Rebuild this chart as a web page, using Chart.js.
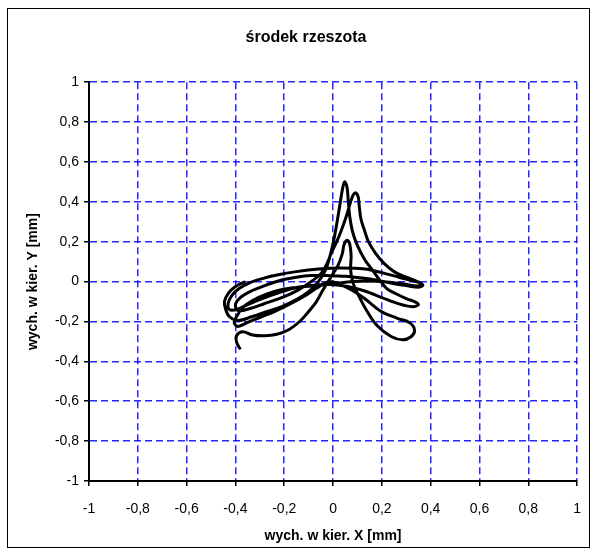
<!DOCTYPE html>
<html>
<head>
<meta charset="utf-8">
<script src="https://cdn.jsdelivr.net/npm/chart.js@4"></script>
<style>
  body { margin: 0; background: #fff; }
</style>
</head>
<body>
<canvas id="chart" width="596" height="553"></canvas>
<script>
// trajektoria środka rzeszota, wychylenia w mm
let pathX = [
  -0.36, -0.40, -0.43, -0.445, -0.44, -0.425, -0.39, -0.33, -0.27, -0.21, -0.15, -0.10, -0.06, -0.03, -0.01, 0.005, 0.018, 0.03, 0.038, 0.047,
  0.057, 0.062, 0.068, 0.08, 0.10, 0.13, 0.16, 0.19, 0.22, 0.26, 0.30, 0.338, 0.35, 0.325, 0.27, 0.20, 0.13, 0.06, -0.01, -0.08, -0.15, -0.22, -0.29, -0.35, -0.395, -0.425, -0.43, -0.415, -0.385,
  -0.34, -0.29, -0.23, -0.15, -0.06, 0.03, 0.13, 0.20, 0.27, 0.33, 0.362, 0.368, 0.35, 0.30, 0.24, 0.18, 0.12, 0.05, -0.02, -0.09, -0.15, -0.21, -0.28, -0.34, -0.38, -0.40, -0.39,
  -0.34, -0.28, -0.20, -0.14, -0.09, -0.05, -0.025, -0.005, 0.015, 0.035, 0.055, 0.072, 0.083, 0.093, 0.103, 0.108, 0.115, 0.128, 0.145, 0.175, 0.21, 0.25, 0.30, 0.345, 0.362, 0.345, 0.29, 0.22, 0.15, 0.08, 0.01, -0.06, -0.13, -0.20, -0.27, -0.33, -0.37, -0.39, -0.405, -0.39,
  -0.35, -0.30, -0.24, -0.18, -0.12, -0.07, -0.015, 0.04, 0.08, 0.129, 0.197, 0.264, 0.315, 0.334, 0.318, 0.285, 0.238, 0.18, 0.14, 0.105, 0.08, 0.072, 0.074, 0.068, 0.058, 0.045, 0.038, 0.02, 0.0, -0.02, -0.045, -0.068, -0.10, -0.137, -0.18, -0.23, -0.28, -0.33, -0.37, -0.395, -0.395, -0.38
];
let pathY = [
  0.0, -0.025, -0.06, -0.10, -0.14, -0.175, -0.195, -0.175, -0.15, -0.125, -0.09, -0.05, 0.0, 0.06, 0.14, 0.22, 0.31, 0.40, 0.46, 0.50,
  0.475, 0.41, 0.33, 0.25, 0.18, 0.11, 0.06, 0.01, -0.035, -0.062, -0.085, -0.103, -0.116, -0.126, -0.112, -0.08, -0.047, -0.025, -0.015, -0.018, -0.03, -0.055, -0.085, -0.115, -0.14, -0.14, -0.11, -0.07, -0.035,
  -0.005, 0.015, 0.033, 0.05, 0.063, 0.068, 0.063, 0.045, 0.022, 0.003, -0.01, -0.02, -0.028, -0.02, -0.008, 0.007, 0.018, 0.027, 0.03, 0.03, 0.022, 0.008, -0.02, -0.05, -0.08, -0.115, -0.145,
  -0.135, -0.11, -0.075, -0.04, 0.0, 0.04, 0.09, 0.15, 0.20, 0.26, 0.33, 0.40, 0.435, 0.445, 0.425, 0.37, 0.31, 0.26, 0.20, 0.14, 0.09, 0.05, 0.022, 0.0, -0.012, -0.022, -0.012, -0.002, 0.003, 0.0, -0.01, -0.02, -0.027, -0.037, -0.062, -0.095, -0.13, -0.165, -0.205, -0.225,
  -0.205, -0.18, -0.15, -0.115, -0.075, -0.035, 0.0, -0.02, -0.045, -0.085, -0.15, -0.184, -0.207, -0.245, -0.278, -0.292, -0.275, -0.22, -0.15, -0.07, 0.0, 0.06, 0.13, 0.19, 0.207, 0.185, 0.14, 0.08, 0.04, 0.0, -0.05, -0.10, -0.15, -0.20, -0.24, -0.264, -0.272, -0.268, -0.252, -0.27, -0.305, -0.34
];

let tickValues = [-1, -0.8, -0.6, -0.4, -0.2, 0, 0.2, 0.4, 0.6, 0.8, 1];
let chartTitle = 'środek rzeszota';
let xTitle = 'wych. w kier. X [mm]';
let yTitle = 'wych. w kier. Y [mm]';

let fontFamily = '"Liberation Sans", Arial, sans-serif';
let points = pathX.map((x, i) => ({ x: x, y: pathY[i] }));

// comma as decimal separator
function fmt(v) {
    return String(v).replace('.', ',');
}

// thin black frame around the whole chart
let frame = {
    id: 'frame',
    afterDraw(chart) {
        let c = chart.ctx;
        c.save();
        c.strokeStyle = '#000';
        c.lineWidth = 1;
        c.strokeRect(7.5, 8.5, 582, 539);
        c.restore();
    }
};

function axis(title, pad, size) {
    return {
        type: 'linear',
        min: -1,
        max: 1,
        afterBuildTicks: s => { s.ticks = tickValues.map(v => ({ value: v })); },
        afterFit: size,
        ticks: {
            callback: fmt,
            color: '#000',
            font: { family: fontFamily, size: 14 },
            padding: pad,
            maxRotation: 0,
            autoSkip: false
        },
        grid: {
            color: 'rgba(0,0,255,0.85)',
            lineWidth: 1.5,
            tickLength: 5,
            tickColor: '#000',
            tickWidth: 1.5
        },
        border: { display: true, color: '#000', width: 2, dash: [7, 4] },
        title: title
    };
}

let ctx = document.getElementById('chart').getContext('2d');
let chart = new Chart(ctx, {
    type: 'scatter',
    data: {
        datasets: [{
            data: points,
            showLine: true,
            borderColor: '#000',
            borderWidth: 3,
            pointRadius: 0,
            tension: 0.35,
            fill: false
        }]
    },
    options: {
        responsive: false,
        animation: false,
        layout: { padding: { left: 34, right: 18, top: 10, bottom: 8 } },
        plugins: {
            legend: { display: false },
            tooltip: { enabled: false },
            title: {
                display: true,
                text: chartTitle,
                color: '#000',
                font: { family: fontFamily, size: 16, weight: 'bold' },
                padding: { top: 18, bottom: 35 }
            }
        },
        scales: {
            x: axis({
                display: true, text: xTitle, color: '#000',
                font: { family: fontFamily, size: 14, weight: 'bold' },
                padding: { top: 0, bottom: 0 }
            }, 15, s => { s.height = 64; }),
            y: axis({
                display: true, text: yTitle, color: '#000',
                font: { family: fontFamily, size: 14, weight: 'bold' },
                padding: { top: -9, bottom: 0 }
            }, 5, s => { s.width = 55; })
        }
    },
    plugins: [frame]
});
</script>
</body>
</html>
